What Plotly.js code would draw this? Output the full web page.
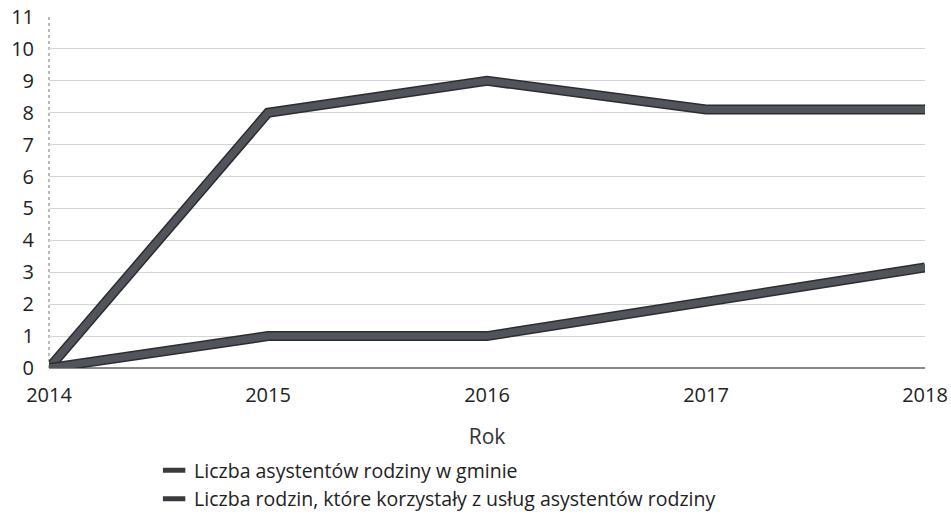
<!DOCTYPE html>
<html>
<head>
<meta charset="utf-8">
<script src="https://cdn.plot.ly/plotly-3.0.1.min.js"></script>
<style>html,body{margin:0;padding:0;background:#fff;}#chart{width:951px;height:520px;}</style>
</head>
<body>
<div id="chart"></div>
<script>
const years = [2014, 2015, 2016, 2017, 2018];
const seriesNames = [
  "Liczba asystentów rodziny w gminie",
  "Liczba rodzin, które korzystały z usług asystentów rodziny"
];
const assistants = [0, 8, 9, 8.1, 8.1];
const families = [0, 1, 1, 2.05, 3.15];
const yTicks = [0, 1, 2, 3, 4, 5, 6, 7, 8, 9, 10, 11];
const xTitle = "Rok";

const lineColor = "#52545b";
const edgeColor = "#2c2d30";
const font = "Open Sans, Noto Sans, sans-serif";

const seriesData = [assistants, families];
const traces = [];
seriesData.forEach(function (vals) {
  traces.push({x: years, y: vals, mode: "lines", line: {color: edgeColor, width: 10}, showlegend: false, hoverinfo: "skip"});
  traces.push({x: years, y: vals, mode: "lines", line: {color: lineColor, width: 7}, showlegend: false});
});
seriesNames.forEach(function (name) {
  traces.push({x: [null], y: [null], mode: "markers", name: name,
    marker: {symbol: "line-ew", size: 18, color: lineColor, line: {color: "#3a3b3f", width: 5}}});
});

const layout = {
  width: 951, height: 520,
  margin: {l: 49, r: 26, t: 17, b: 152, autoexpand: false},
  paper_bgcolor: "#fff", plot_bgcolor: "#fff",
  font: {family: font, color: "#222", size: 20},
  showlegend: true,
  legend: {x: 0.12, y: -0.237, xanchor: "left", yanchor: "top", orientation: "v",
    font: {family: font, size: 19.5, color: "#222"}, tracegroupgap: 0, itemwidth: 30},
  xaxis: {
    range: [2014, 2018], tickvals: years, ticktext: years.map(String),
    showgrid: false, zeroline: false, showline: false, ticks: "",
    ticklabelstandoff: 13,
    tickfont: {size: 20, color: "#222"},
    title: {text: xTitle, font: {size: 21, color: "#333"}, standoff: 22}
  },
  yaxis: {
    range: [0, 11], tickvals: yTicks, ticktext: yTicks.map(String),
    showgrid: true, gridcolor: "#d4d4d4", gridwidth: 1,
    zeroline: true, zerolinecolor: "#8a8a8a", zerolinewidth: 1.5,
    showline: false, ticks: "", ticklabelstandoff: 14,
    tickfont: {size: 20, color: "#222"}
  },
  shapes: [{type: "line", xref: "paper", yref: "paper", x0: 0, x1: 0, y0: 0, y1: 1,
    line: {color: "#777", width: 1, dash: "dot"}, layer: "below"}]
};

Plotly.newPlot("chart", traces, layout, {displayModeBar: false, staticPlot: true});
</script>
</body>
</html>
